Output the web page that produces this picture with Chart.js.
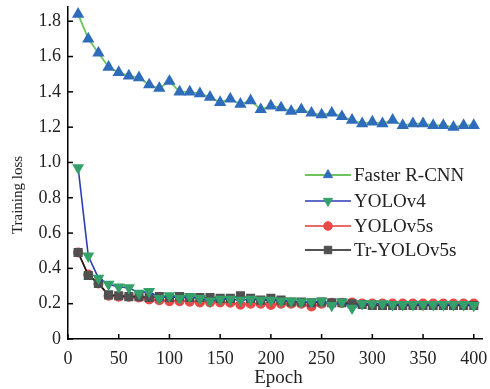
<!DOCTYPE html>
<html>
<head>
<meta charset="utf-8">
<script src="https://cdn.jsdelivr.net/npm/chart.js@4"></script>
<style>
  html, body { margin: 0; padding: 0; background: #fff; }
  #wrap { width: 490px; height: 389px; }
</style>
</head>
<body>
<div id="wrap"><canvas id="myChart" width="490" height="389"></canvas></div>
<script>
// data
var epochs = [10,20,30,40,50,60,70,80,90,100,110,120,130,140,150,160,170,180,190,200,
              210,220,230,240,250,260,270,280,290,300,310,320,330,340,350,360,370,380,390,400];
var fasterRcnn = [1.84,1.70,1.62,1.54,1.51,1.49,1.48,1.44,1.42,1.46,1.40,1.40,1.39,1.37,1.34,1.36,1.33,1.35,1.30,1.32,
                  1.31,1.29,1.30,1.28,1.27,1.28,1.26,1.24,1.22,1.23,1.22,1.24,1.21,1.22,1.22,1.21,1.21,1.20,1.21,1.21];
var yolov4 = [0.97,0.47,0.345,0.31,0.295,0.29,0.26,0.27,0.23,0.245,0.23,0.24,0.23,0.215,0.225,0.225,0.22,0.225,0.22,0.22,
              0.215,0.215,0.21,0.21,0.215,0.19,0.21,0.175,0.2,0.2,0.2,0.195,0.195,0.195,0.195,0.195,0.195,0.195,0.195,0.19];
var yolov5s = [0.49,0.365,0.315,0.245,0.24,0.24,0.235,0.225,0.22,0.215,0.215,0.212,0.208,0.208,0.208,0.206,0.195,0.2,0.2,0.193,
               0.2,0.2,0.2,0.185,0.2,0.205,0.205,0.206,0.2,0.2,0.2,0.2,0.2,0.2,0.2,0.2,0.2,0.2,0.2,0.2];
var trYolov5s = [0.49,0.36,0.315,0.25,0.245,0.24,0.24,0.235,0.24,0.235,0.24,0.235,0.235,0.235,0.23,0.23,0.245,0.23,0.22,0.23,
                 0.22,0.21,0.21,0.205,0.21,0.205,0.205,0.2,0.195,0.19,0.19,0.19,0.19,0.19,0.19,0.19,0.19,0.19,0.19,0.19];
var names = ['Faster R-CNN', 'YOLOv4', 'YOLOv5s', 'Tr-YOLOv5s'];
var xTicks = [0,50,100,150,200,250,300,350,400];
var yTicks = [0,0.2,0.4,0.6,0.8,1.0,1.2,1.4,1.6,1.8];

var FONT = '"Liberation Serif", "Times New Roman", serif';

function pts(vals) {
  return vals.map(function (v, i) { return { x: epochs[i], y: v }; });
}

var data = {
  datasets: [
    { label: names[0], data: pts(fasterRcnn), borderColor: '#6cc45c', backgroundColor: '#2f6cbc',
      pointBorderColor: '#2f6cbc', pointStyle: 'triangle', pointRadius: 5.3, borderWidth: 1.8, order: 0 },
    { label: names[1], data: pts(yolov4), borderColor: '#2b3db4', backgroundColor: '#34a06a',
      pointBorderColor: '#34a06a', pointStyle: 'triangle', pointRotation: 180, pointRadius: 5.3, borderWidth: 1.6, order: 1 },
    { label: names[2], data: pts(yolov5s), borderColor: '#e03a3a', backgroundColor: '#e84848',
      pointBorderColor: '#e84848', pointStyle: 'circle', pointRadius: 4.3, borderWidth: 1.6, order: 3 },
    { label: names[3], data: pts(trYolov5s), borderColor: '#1a1a1a', backgroundColor: '#505050',
      pointBorderColor: '#505050', pointStyle: 'rect', pointRadius: 5.3, borderWidth: 1.6, order: 2 }
  ]
};

// inward tick marks, axis titles, in-plot legend
var extras = {
  id: 'extras',
  afterDraw: function (chart) {
    var ctx = chart.ctx, a = chart.chartArea;
    var xs = chart.scales.x, ys = chart.scales.y;
    ctx.save();
    ctx.strokeStyle = '#000';
    ctx.lineWidth = 1.5;
    xTicks.forEach(function (v) {
      var px = xs.getPixelForValue(v);
      ctx.beginPath(); ctx.moveTo(px, a.bottom); ctx.lineTo(px, a.bottom - 5); ctx.stroke();
    });
    yTicks.forEach(function (v) {
      var py = ys.getPixelForValue(v);
      ctx.beginPath(); ctx.moveTo(a.left, py); ctx.lineTo(a.left + 5, py); ctx.stroke();
    });

    ctx.fillStyle = '#222';
    ctx.font = '19px ' + FONT;
    ctx.textAlign = 'center';
    ctx.textBaseline = 'middle';
    ctx.fillText('Epoch', (a.left + a.right) / 2 + 3, 378);
    ctx.save();
    ctx.translate(18, 195);
    ctx.rotate(-Math.PI / 2);
    ctx.font = '15px ' + FONT;
    ctx.fillText('Training loss', 0, 0);
    ctx.restore();

    // legend
    var rows = [175, 201, 226, 250];
    ctx.textAlign = 'left';
    ctx.font = '19px ' + FONT;
    chart.data.datasets.forEach(function (ds, i) {
      var y = rows[i];
      ctx.strokeStyle = ds.borderColor;
      ctx.lineWidth = ds.borderWidth;
      ctx.beginPath(); ctx.moveTo(305, y); ctx.lineTo(351, y); ctx.stroke();
      ctx.fillStyle = ds.backgroundColor;
      ctx.strokeStyle = ds.pointBorderColor;
      ctx.lineWidth = 1;
      Chart.helpers.drawPoint(ctx, { pointStyle: ds.pointStyle, rotation: ds.pointRotation || 0,
        radius: ds.pointRadius, borderWidth: 1 }, 328, y);
      ctx.fillStyle = '#222';
      ctx.fillText(ds.label, 354, y + 1);
    });
    ctx.restore();
  }
};

var config = {
  type: 'line',
  data: data,
  options: {
    responsive: false,
    animation: false,
    layout: { padding: 0 },
    plugins: { legend: { display: false }, tooltip: { enabled: false } },
    elements: { line: { tension: 0 } },
    scales: {
      x: {
        type: 'linear', min: 0, max: 409,
        afterBuildTicks: function (s) { s.ticks = xTicks.map(function (v) { return { value: v }; }); },
        afterFit: function (s) { s.height = 50; s.paddingRight = 7; s.paddingLeft = 0; },
        grid: { display: true, drawOnChartArea: false, drawTicks: false },
        border: { color: '#000', width: 1.5 },
        ticks: { color: '#222', font: { family: FONT, size: 18 }, padding: 9, maxRotation: 0 }
      },
      y: {
        type: 'linear', min: 0, max: 1.88,
        afterBuildTicks: function (s) { s.ticks = yTicks.map(function (v) { return { value: v }; }); },
        afterFit: function (s) { s.width = 68; s.paddingTop = 7; s.paddingBottom = 0; },
        grid: { display: true, drawOnChartArea: false, drawTicks: false },
        border: { color: '#000', width: 1.5 },
        ticks: { color: '#222', font: { family: FONT, size: 18 }, padding: 7,
          callback: function (v) { return v === 0 ? '0' : v.toFixed(1); } }
      }
    }
  },
  plugins: [extras]
};

const myChart = new Chart(document.getElementById('myChart'), config);
</script>
</body>
</html>
